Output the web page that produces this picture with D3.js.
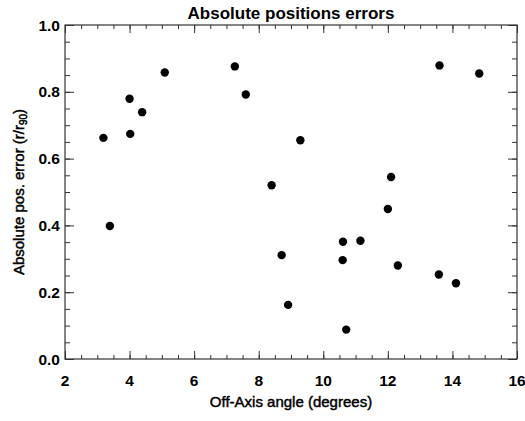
<!DOCTYPE html>
<html>
<head>
<meta charset="utf-8">
<script src="https://cdn.jsdelivr.net/npm/d3@7"></script>
<style>
  body { margin: 0; background: #fff; }
  text { font-family: "Liberation Sans", Arial, sans-serif; fill: #000; }
</style>
</head>
<body>
<script>
  // off-axis angle (degrees) and absolute position error (r/r90)
  const offAxis = [3.19, 3.39, 4.0, 4.02, 4.39, 5.09, 7.26, 7.6, 8.4, 8.71, 8.91, 9.29,
    10.6, 10.61, 10.71, 11.15, 12.0, 12.1, 12.31, 13.58, 13.6, 14.11, 14.83];
  const posError = [0.662, 0.398, 0.779, 0.674, 0.739, 0.858, 0.876, 0.792, 0.52, 0.311, 0.162, 0.655,
    0.296, 0.351, 0.088, 0.354, 0.449, 0.545, 0.28, 0.253, 0.879, 0.227, 0.855];
  const xTicks = [2, 4, 6, 8, 10, 12, 14, 16];
  const yTicks = [0.0, 0.2, 0.4, 0.6, 0.8, 1.0];

  const width = 525, height = 421;
  const margin = { top: 25, right: 8, bottom: 62, left: 65 };

  const svg = d3.select('body').append('svg')
    .attr('width', width)
    .attr('height', height);

  const x = d3.scaleLinear().domain([2, 16]).range([margin.left, width - margin.right]);
  const y = d3.scaleLinear().domain([0, 1]).range([height - margin.bottom, margin.top]);

  const xMinor = d3.range(2, 16.01, 0.5);
  const yMinor = d3.range(0, 1.001, 0.05);

  const tickStyle = (g) => {
    g.select('.domain').remove();
    g.selectAll('line').attr('stroke', '#333');
  };

  // minor ticks on all sides
  svg.append('g').attr('transform', `translate(0,${y(0)})`)
    .call(d3.axisTop(x).tickValues(xMinor).tickSize(4).tickFormat(''))
    .call(tickStyle);
  svg.append('g').attr('transform', `translate(0,${y(1)})`)
    .call(d3.axisBottom(x).tickValues(xMinor).tickSize(4).tickFormat(''))
    .call(tickStyle);
  svg.append('g').attr('transform', `translate(${x(2)},0)`)
    .call(d3.axisRight(y).tickValues(yMinor).tickSize(5).tickFormat(''))
    .call(tickStyle);
  svg.append('g').attr('transform', `translate(${x(16)},0)`)
    .call(d3.axisLeft(y).tickValues(yMinor).tickSize(5).tickFormat(''))
    .call(tickStyle);

  // major ticks
  svg.append('g').attr('transform', `translate(0,${y(0)})`)
    .call(d3.axisTop(x).tickValues(xTicks).tickSize(8).tickFormat(''))
    .call(tickStyle);
  svg.append('g').attr('transform', `translate(0,${y(1)})`)
    .call(d3.axisBottom(x).tickValues(xTicks).tickSize(8).tickFormat(''))
    .call(tickStyle);
  svg.append('g').attr('transform', `translate(${x(2)},0)`)
    .call(d3.axisRight(y).tickValues(yTicks).tickSize(9).tickFormat(''))
    .call(tickStyle);
  svg.append('g').attr('transform', `translate(${x(16)},0)`)
    .call(d3.axisLeft(y).tickValues(yTicks).tickSize(9).tickFormat(''))
    .call(tickStyle);

  // frame
  svg.append('rect')
    .attr('x', x(2)).attr('y', y(1))
    .attr('width', x(16) - x(2)).attr('height', y(0) - y(1))
    .attr('fill', 'none').attr('stroke', '#333').attr('stroke-width', 1.2);

  // tick labels
  svg.append('g').selectAll('text').data(xTicks).join('text')
    .attr('x', (d) => x(d)).attr('y', y(0) + 27)
    .attr('text-anchor', 'middle')
    .attr('font-size', 15.5).attr('font-weight', 'bold')
    .text((d) => d);
  svg.append('g').selectAll('text').data(yTicks).join('text')
    .attr('x', x(2) - 5).attr('y', (d) => y(d) + 5.5)
    .attr('text-anchor', 'end')
    .attr('font-size', 15.5).attr('font-weight', 'bold')
    .text((d) => d.toFixed(1));

  // points
  svg.append('g').selectAll('circle').data(offAxis).join('circle')
    .attr('cx', (d) => x(d))
    .attr('cy', (d, i) => y(posError[i]))
    .attr('r', 4.2)
    .attr('fill', '#000');

  // titles
  svg.append('text')
    .attr('x', (x(2) + x(16)) / 2).attr('y', 19)
    .attr('text-anchor', 'middle')
    .attr('font-size', 17).attr('font-weight', 'bold')
    .text('Absolute positions errors');

  svg.append('text')
    .attr('x', (x(2) + x(16)) / 2).attr('y', 407)
    .attr('text-anchor', 'middle')
    .attr('font-size', 15)
    .attr('stroke', '#000').attr('stroke-width', 0.45)
    .text('Off-Axis angle (degrees)');

  const yl = svg.append('text')
    .attr('transform', `translate(24,${(y(0) + y(1)) / 2}) rotate(-90)`)
    .attr('text-anchor', 'middle')
    .attr('font-size', 15)
    .attr('stroke', '#000').attr('stroke-width', 0.45)
    .text('Absolute pos. error (r/r');
  yl.append('tspan').attr('font-size', 10).attr('dy', 3).text('90');
  yl.append('tspan').attr('dy', -3).text(')');
</script>
</body>
</html>
